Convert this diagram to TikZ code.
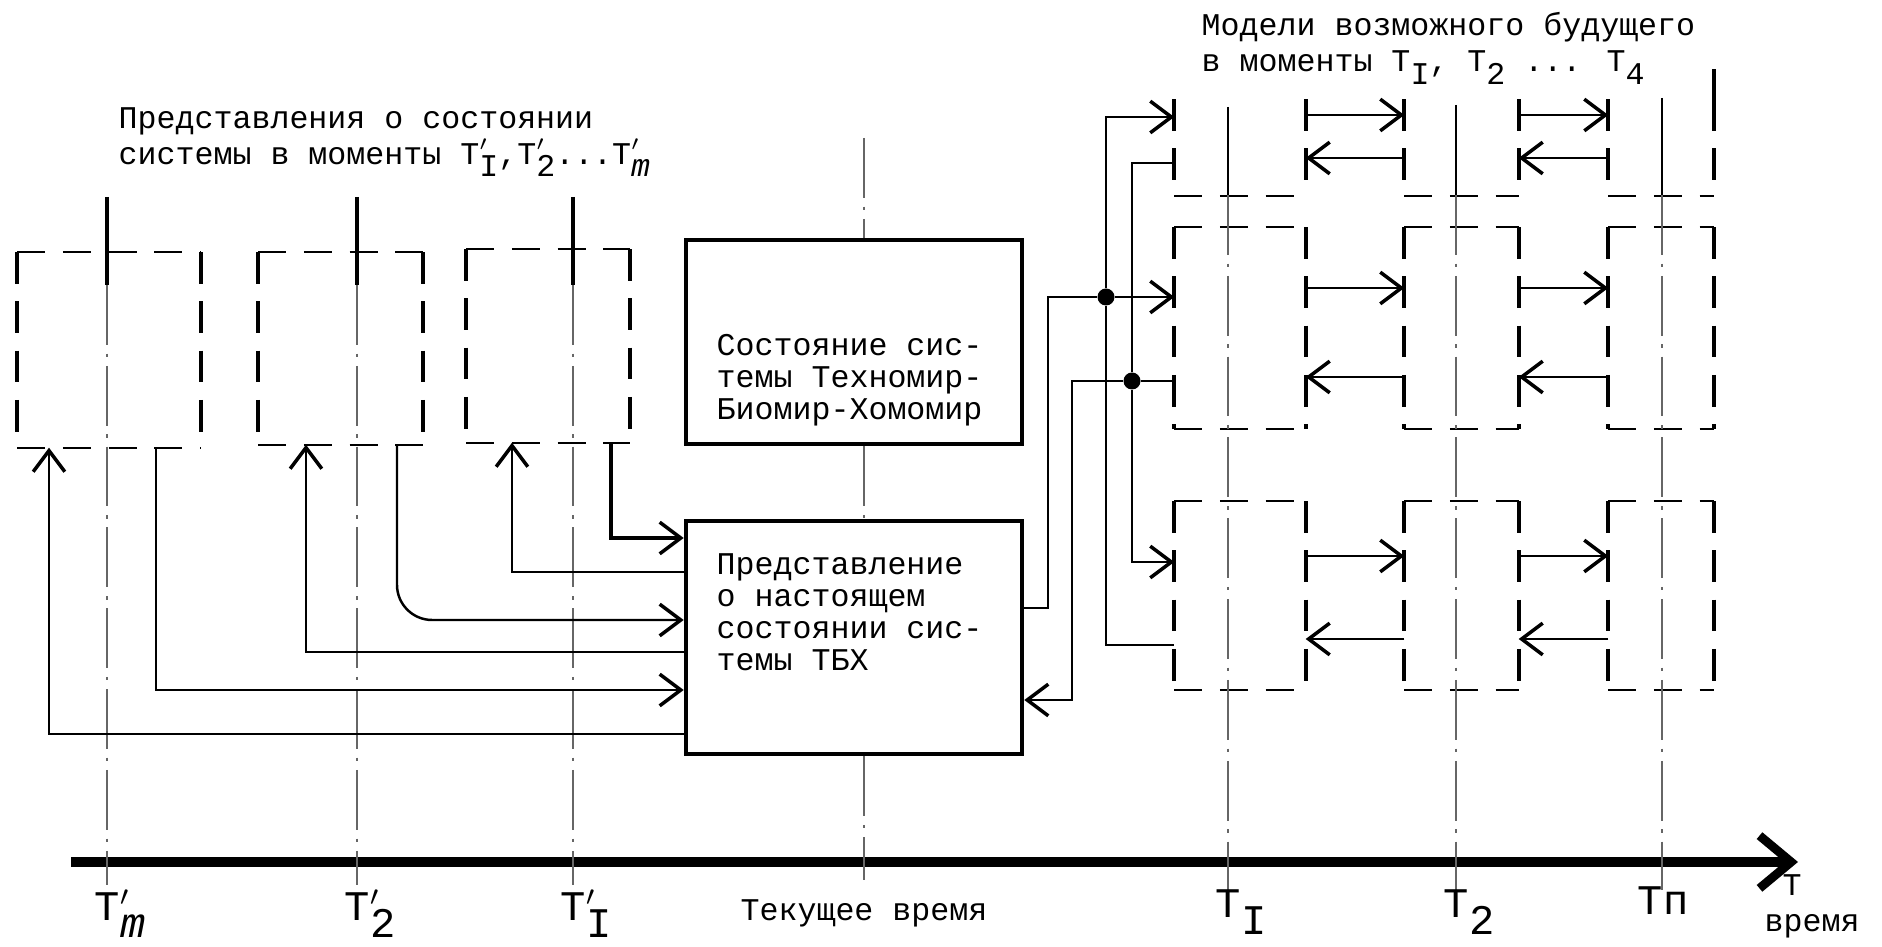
\documentclass[tikz,border=0pt]{standalone}
\usepackage{fontspec}
\setmainfont{Liberation Mono}
\usetikzlibrary{arrows.meta,fit,positioning}

\newcommand{\lowr}[1]{\raisebox{-0.4em}{#1}}
\newcommand{\tpr}[1]{T\rlap{$'$}\lowr{#1}}

\tikzset{
  txt/.style={font={\fontsize{9}{9.1}\selectfont\lineskiplimit=-20pt}, align=left, inner sep=0pt},
  ttl/.style={txt, font={\fontsize{9}{10.1}\selectfont\lineskiplimit=-20pt}},
  tlbl/.style={font=\fontsize{12}{12}\selectfont, inner sep=0pt},
  sbox/.style={draw, line width=1.3pt, inner sep=0pt},
  mbox/.style={inner sep=0pt},
  vside/.style={line width=1.1pt, dash pattern=on 9pt off 5pt},
  hside/.style={line width=0.6pt, dash pattern=on 8pt off 5pt},
  tline/.style={black!60, line width=0.5pt, dash pattern=on 17pt off 2.5pt on 1pt off 2.5pt},
  link/.style={line width=0.7pt},
  arr/.style={-{Straight Barb[length=6pt,width=9pt,line width=1pt]}},
  dot/.style={circle, fill, inner sep=0pt, minimum size=1.7mm},
}

\begin{document}
\begin{tikzpicture}[x=0.1mm, y=-0.1mm]
    \useasboundingbox (0,0) rectangle (1882,947);

    % Titles
    \node[ttl, anchor=north west] (pasttitle) at (118,107)
        {Представления о состоянии\\системы в моменты \tpr{I},\tpr{2}...\tpr{\textit{m}}};
    \node[ttl, anchor=north west] (futtitle) at (1201,12)
        {Модели возможного будущего\\в моменты T\lowr{I}, T\lowr{2} ... T\lowr{4}};

    % Past states
    \node[mbox, fit={(18,253) (200,447)}] (pm) {};
    \node[mbox, fit={(259,253) (422,444)}] (p2) {};
    \node[mbox, fit={(467,250) (629,442)}] (p1) {};

    % Present
    \node[sbox, fit={(686,240) (1022,444)}] (state) {};
    \node[sbox, fit={(686,521) (1022,754)}] (now) {};
    \node[txt, anchor=north west] (statetxt) at (716,334)
        {Состояние сис-\\темы Техномир-\\Биомир-Хомомир};
    \node[txt, anchor=north west] (nowtxt) at (716,553)
        {Представление\\о настоящем\\состоянии сис-\\темы ТБХ};

    % Future models
    \foreach \col/\xl/\xr in {1/1175/1305, 2/1405/1518, 3/1609/1713}
      \foreach \row/\yt/\yb in {a/100/195, b/228/428, c/502/689}
        \node[mbox, fit={(\xl,\yt) (\xr,\yb)}] (f\col\row) {};

    % Dashed borders
    \foreach \n in {pm,p2,p1,f1b,f2b,f3b,f1c,f2c,f3c} {
        \draw[vside] (\n.north west) -- (\n.south west) (\n.north east) -- (\n.south east);
        \draw[hside] (\n.north west) -- (\n.north east) (\n.south west) -- (\n.south east);
    }
    \foreach \n in {f1a,f2a,f3a} {
        \draw[vside] (\n.north west) -- (\n.south west) (\n.north east) -- (\n.south east);
        \draw[hside] (\n.south west) -- (\n.south east);
    }
    \draw[vside] (f3a.north east) -- ++(0,-30);

    % Time axis
    \coordinate (tm) at (107,862);
    \coordinate (t2p) at (357,862);
    \coordinate (t1p) at (573,862);
    \coordinate (tnow) at (864,862);
    \coordinate (t1) at (1228,862);
    \coordinate (t2) at (1456,862);
    \coordinate (tn) at (1662,862);
    \coordinate (axs) at (71,862);
    \coordinate (axe) at (1798,862);
    \draw[line width=3pt, -{Straight Barb[length=9pt,width=15pt,line width=2.5pt]}] (axs) -- (axe);

    % Time lines
    \foreach \tk in {tm,t2p,t1p} {
        \draw[line width=0.9pt] (\tk |- 0,197) -- (\tk |- 0,285);
        \draw[tline] (\tk |- 0,285) -- (\tk |- 0,885);
    }
    \foreach \tk/\y in {t1/107, t2/105, tn/98} {
        \draw[line width=0.8pt] (\tk |- 0,\y) -- (\tk |- 0,195);
        \draw[tline] (\tk |- 0,195) -- (\tk |- 0,890);
    }
    \draw[tline] (tnow |- 0,138) -- (tnow |- state.north);
    \draw[tline] (tnow |- state.south) -- (tnow |- now.north);
    \draw[tline] (tnow |- now.south) -- (tnow |- 0,880);

    % Labels
    \node[tlbl, anchor=base west] (lm) at (94,921) {\tpr{\textit{m}}};
    \node[tlbl, anchor=base west] (l2p) at (344,921) {\tpr{2}};
    \node[tlbl, anchor=base west] (l1p) at (560,921) {\tpr{I}};
    \node[txt, anchor=base] (lnow) at (864,921) {Текущее время};
    \node[tlbl, anchor=base west] (l1) at (1215,918) {T\lowr{I}};
    \node[tlbl, anchor=base west] (l2) at (1443,918) {T\lowr{2}};
    \node[tlbl, anchor=base] (ln) at (1663,915) {Tп};
    \node[txt, anchor=base] (lT) at (1792,896) {T};
    \node[txt, anchor=base west] (lvr) at (1764,932) {время};

    % Past <-> present
    \draw[link, line width=1.1pt, arr] (p1.south -| 611,0) |- (now.west |- 0,538);
    \draw[link, arr] (now.west |- 0,572) -| (p1.south -| 512,0);
    \draw[link, arr, rounded corners=10pt] (p2.south -| 397,0) |- (now.west |- 0,620);
    \draw[link, arr] (now.west |- 0,652) -| (p2.south -| 306,0);
    \draw[link, arr] (pm.south -| 156,0) |- (now.west |- 0,690);
    \draw[link, arr] (now.west |- 0,734) -| (pm.south -| 49,0);

    % Present <-> future
    \node[dot] (j1) at (1106,297) {};
    \node[dot] (j2) at (1132,381) {};
    \coordinate (k1) at (1048,297);
    \coordinate (k2) at (1072,381);
    \draw[link] (now.east |- 0,608) -| (k1) -- (j1);
    \draw[link, arr] (j1) -- (f1b.west |- j1);
    \draw[link, arr] (j1) |- (f1a.west |- 0,117);
    \draw[link] (j1) |- (f1c.west |- 0,645);
    \draw[link, arr] (f1a.west |- 0,163) -| (j2) |- (f1c.west |- 0,562);
    \draw[link] (j2) -- (f1b.west |- j2);
    \draw[link, arr] (j2) -- (k2) |- (now.east |- 0,700);

    % Between future models
    \foreach \a/\b in {1/2, 2/3}
      \foreach \row/\yf/\yb in {a/115/158, b/288/377, c/556/639} {
        \draw[link, arr] (f\a\row.east |- 0,\yf) -- (f\b\row.west |- 0,\yf);
        \draw[link, arr] (f\b\row.west |- 0,\yb) -- (f\a\row.east |- 0,\yb);
      }
\end{tikzpicture}
\end{document}
